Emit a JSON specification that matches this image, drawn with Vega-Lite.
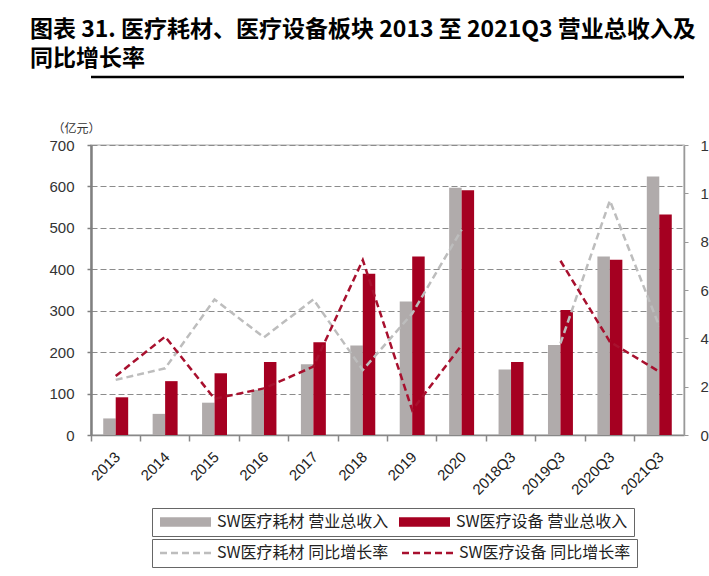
{
  "$schema": "https://vega.github.io/schema/vega-lite/v6.json",
  "width": 593,
  "height": 290,
  "autosize": {"type": "none"},
  "padding": {"left": 91, "top": 145, "right": 25, "bottom": 141},
  "background": "white",
  "title": {
    "text": ["图表 31. 医疗耗材、医疗设备板块 2013 至 2021Q3 营业总收入及", "同比增长率"],
    "anchor": "start",
    "frame": "group",
    "dx": -61,
    "offset": 5,
    "font": "Noto Sans CJK SC",
    "fontSize": 23,
    "fontWeight": "bold",
    "color": "#000000",
    "lineHeight": 29
  },
  "datasets": {
    "rev": [
      {"period": "2013", "series": "SW医疗耗材 营业总收入", "value": 40},
      {"period": "2013", "series": "SW医疗设备 营业总收入", "value": 91},
      {"period": "2014", "series": "SW医疗耗材 营业总收入", "value": 51},
      {"period": "2014", "series": "SW医疗设备 营业总收入", "value": 130},
      {"period": "2015", "series": "SW医疗耗材 营业总收入", "value": 78},
      {"period": "2015", "series": "SW医疗设备 营业总收入", "value": 149},
      {"period": "2016", "series": "SW医疗耗材 营业总收入", "value": 109},
      {"period": "2016", "series": "SW医疗设备 营业总收入", "value": 176},
      {"period": "2017", "series": "SW医疗耗材 营业总收入", "value": 171},
      {"period": "2017", "series": "SW医疗设备 营业总收入", "value": 224},
      {"period": "2018", "series": "SW医疗耗材 营业总收入", "value": 216},
      {"period": "2018", "series": "SW医疗设备 营业总收入", "value": 389},
      {"period": "2019", "series": "SW医疗耗材 营业总收入", "value": 322},
      {"period": "2019", "series": "SW医疗设备 营业总收入", "value": 431},
      {"period": "2020", "series": "SW医疗耗材 营业总收入", "value": 597},
      {"period": "2020", "series": "SW医疗设备 营业总收入", "value": 591},
      {"period": "2018Q3", "series": "SW医疗耗材 营业总收入", "value": 158},
      {"period": "2018Q3", "series": "SW医疗设备 营业总收入", "value": 176},
      {"period": "2019Q3", "series": "SW医疗耗材 营业总收入", "value": 217},
      {"period": "2019Q3", "series": "SW医疗设备 营业总收入", "value": 302},
      {"period": "2020Q3", "series": "SW医疗耗材 营业总收入", "value": 431},
      {"period": "2020Q3", "series": "SW医疗设备 营业总收入", "value": 423},
      {"period": "2021Q3", "series": "SW医疗耗材 营业总收入", "value": 624},
      {"period": "2021Q3", "series": "SW医疗设备 营业总收入", "value": 532}
    ],
    "growth": [
      {"period": "2013", "series": "SW医疗耗材 同比增长率", "seg": "年度", "rate": 22.8},
      {"period": "2014", "series": "SW医疗耗材 同比增长率", "seg": "年度", "rate": 27.6},
      {"period": "2015", "series": "SW医疗耗材 同比增长率", "seg": "年度", "rate": 56.1},
      {"period": "2016", "series": "SW医疗耗材 同比增长率", "seg": "年度", "rate": 40.4},
      {"period": "2017", "series": "SW医疗耗材 同比增长率", "seg": "年度", "rate": 56.1},
      {"period": "2018", "series": "SW医疗耗材 同比增长率", "seg": "年度", "rate": 26.9},
      {"period": "2019", "series": "SW医疗耗材 同比增长率", "seg": "年度", "rate": 50.3},
      {"period": "2020", "series": "SW医疗耗材 同比增长率", "seg": "年度", "rate": 85},
      {"period": "2019Q3", "series": "SW医疗耗材 同比增长率", "seg": "季度", "rate": 37.9},
      {"period": "2020Q3", "series": "SW医疗耗材 同比增长率", "seg": "季度", "rate": 97},
      {"period": "2021Q3", "series": "SW医疗耗材 同比增长率", "seg": "季度", "rate": 45},
      {"period": "2013", "series": "SW医疗设备 同比增长率", "seg": "年度", "rate": 24.4},
      {"period": "2014", "series": "SW医疗设备 同比增长率", "seg": "年度", "rate": 40.7},
      {"period": "2015", "series": "SW医疗设备 同比增长率", "seg": "年度", "rate": 15},
      {"period": "2016", "series": "SW医疗设备 同比增长率", "seg": "年度", "rate": 19.3},
      {"period": "2017", "series": "SW医疗设备 同比增长率", "seg": "年度", "rate": 28.3},
      {"period": "2018", "series": "SW医疗设备 同比增长率", "seg": "年度", "rate": 72.4},
      {"period": "2019", "series": "SW医疗设备 同比增长率", "seg": "年度", "rate": 10.3},
      {"period": "2020", "series": "SW医疗设备 同比增长率", "seg": "年度", "rate": 37.2},
      {"period": "2019Q3", "series": "SW医疗设备 同比增长率", "seg": "季度", "rate": 72.1},
      {"period": "2020Q3", "series": "SW医疗设备 同比增长率", "seg": "季度", "rate": 38.6},
      {"period": "2021Q3", "series": "SW医疗设备 同比增长率", "seg": "季度", "rate": 26.2}
    ]
  },
  "layer": [
    {
      "layer": [
        {
          "data": {"name": "rev"},
          "mark": {"type": "bar"},
          "encoding": {
            "x": {
              "field": "period",
              "type": "nominal",
              "scale": {
                "domain": ["2013", "2014", "2015", "2016", "2017", "2018", "2019", "2020", "2018Q3", "2019Q3", "2020Q3", "2021Q3"],
                "paddingInner": 0,
                "paddingOuter": 0
              },
              "axis": {
                "title": null,
                "labelAngle": -45,
                "bandPosition": 0,
                "labelOffset": -3,
                "tickSize": 6,
                "labelPadding": 8,
                "domainColor": "#888888",
                "domainWidth": 1.5,
                "tickColor": "#888888",
                "tickWidth": 1.5,
                "labelFont": "Liberation Sans",
                "labelFontSize": 15,
                "labelColor": "#222222"
              }
            },
            "xOffset": {
              "field": "series",
              "type": "nominal",
              "scale": {"domain": ["SW医疗耗材 营业总收入", "SW医疗设备 营业总收入"], "paddingInner": 0, "paddingOuter": 0.98}
            },
            "y": {
              "field": "value",
              "type": "quantitative",
              "scale": {"domain": [0, 700]},
              "axis": {
                "title": "（亿元）",
                "titleAngle": 0,
                "titleX": -15,
                "titleY": -17,
                "titleAlign": "center",
                "titleBaseline": "middle",
                "titleFont": "Noto Sans CJK SC",
                "titleFontSize": 12,
                "titleFontWeight": "normal",
                "titleColor": "#333333",
                "values": [0, 100, 200, 300, 400, 500, 600, 700],
                "grid": true,
                "gridDash": [6, 3],
                "gridColor": "#8c8c8c",
                "gridWidth": 1.2,
                "domainColor": "#808080",
                "domainWidth": 2.5,
                "tickSize": 4,
                "tickColor": "#808080",
                "tickWidth": 1.5,
                "labelPadding": 13,
                "labelFont": "Liberation Sans",
                "labelFontSize": 15,
                "labelColor": "#333333"
              }
            },
            "color": {
              "field": "series",
              "type": "nominal",
              "scale": {
                "domain": ["SW医疗耗材 营业总收入", "SW医疗设备 营业总收入"],
                "range": ["#b0abab", "#a50021"]
              },
              "legend": {
                "title": null,
                "orient": "none",
                "legendX": 61,
                "legendY": 363,
                "direction": "horizontal",
                "symbolType": "M-1,-0.8L7.5,-0.8L7.5,0.8L-1,0.8Z",
                "symbolSize": 144,
                "symbolStrokeWidth": 0,
                "labelOffset": 43,
                "columnPadding": 8,
                "padding": 6,
                "strokeColor": "#666666",
                "labelFont": "Noto Sans CJK SC",
                "labelFontSize": 16,
                "labelColor": "#222222",
                "labelLimit": 400
              }
            }
          }
        },
        {
          "data": {"values": [{}]},
          "mark": {"type": "rule", "color": "#000000", "strokeWidth": 2.5},
          "encoding": {"y": {"datum": 864}}
        }
      ]
    },
    {
      "data": {"name": "growth"},
      "mark": {"type": "line", "strokeWidth": 2.5, "strokeDash": [7, 4]},
      "encoding": {
        "x": {
          "field": "period",
          "type": "nominal",
          "scale": {
            "domain": ["2013", "2014", "2015", "2016", "2017", "2018", "2019", "2020", "2018Q3", "2019Q3", "2020Q3", "2021Q3"]
          }
        },
        "y": {
          "field": "rate",
          "type": "quantitative",
          "scale": {"domain": [0, 120]},
          "axis": {
            "orient": "right",
            "title": null,
            "values": [0, 20, 40, 60, 80, 100, 120],
            "labelExpr": "datum.value + '%'",
            "grid": false,
            "domainColor": "#999999",
            "domainWidth": 1.5,
            "tickSize": 4,
            "tickColor": "#999999",
            "labelPadding": 12,
            "labelFont": "Liberation Sans",
            "labelFontSize": 15,
            "labelColor": "#333333"
          }
        },
        "color": {
          "field": "series",
          "type": "nominal",
          "scale": {
            "domain": ["SW医疗耗材 同比增长率", "SW医疗设备 同比增长率"],
            "range": ["#bdbdbd", "#a8102e"]
          },
          "legend": {
            "title": null,
            "orient": "none",
            "legendX": 61,
            "legendY": 394,
            "direction": "horizontal",
            "symbolType": "M-1,0L7.5,0",
            "symbolSize": 144,
            "symbolStrokeWidth": 2.5,
            "symbolDash": [7, 4],
            "labelOffset": 43,
            "columnPadding": 8,
            "padding": 6,
            "strokeColor": "#666666",
            "labelFont": "Noto Sans CJK SC",
            "labelFontSize": 16,
            "labelColor": "#222222",
            "labelLimit": 400
          }
        },
        "detail": {"field": "seg"}
      }
    }
  ],
  "resolve": {"scale": {"y": "independent", "color": "independent"}},
  "config": {
    "font": "Liberation Sans",
    "view": {"stroke": "#c8c8c8", "strokeWidth": 1.5}
  }
}
